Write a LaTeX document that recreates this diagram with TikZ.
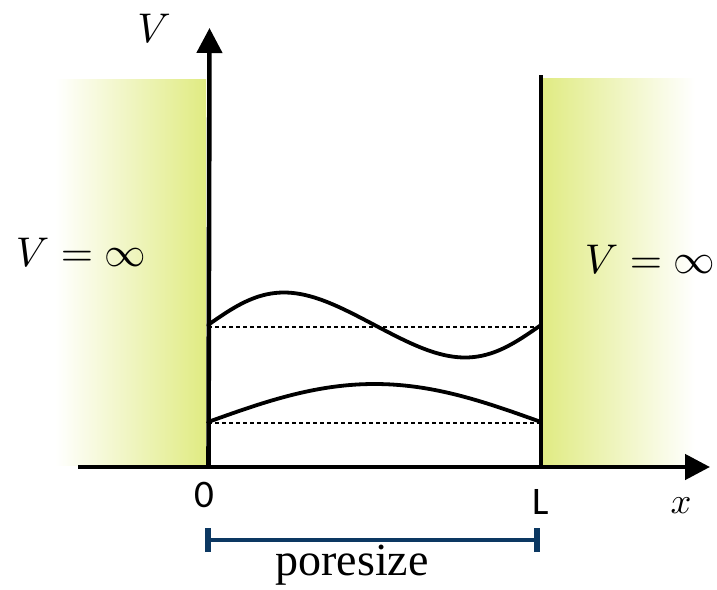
\documentclass[tikz,border=0pt]{standalone}
\usepackage{fontspec}
\newfontfamily\sansf{Carlito}
\newfontfamily\seriff{Liberation Serif}
\usetikzlibrary{arrows.meta}
\definecolor{wallyel}{RGB}{224,235,130}
\definecolor{brnavy}{RGB}{12,56,98}
\tikzset{
  axisline/.style={line width=4.6pt,-{Triangle[length=25pt,width=25pt]}},
  wallline/.style={line width=4.5pt},
  wave/.style={line width=3.8pt,line cap=round},
  level/.style={line width=1.4pt,dash pattern=on 4pt off 3pt},
  mathlbl/.style={inner sep=0pt,scale=4.15},
  sanslbl/.style={inner sep=0pt,font=\sansf\fontsize{39}{42}\selectfont},
}
\begin{document}
\begin{tikzpicture}[x=1pt,y=-1pt]
\useasboundingbox (0,0) rectangle (717,589);
% walls (shaded regions)
\shade[left color=white,right color=wallyel] (55,79) rectangle (206,465);
\shade[left color=wallyel,right color=white] (541,78) rectangle (695,465);
% coordinates
\coordinate (o) at (208.5,467);
\coordinate (ytip) at (209.5,28);
\coordinate (xstart) at (78,467);
\coordinate (xtip) at (710,467);
\coordinate (rwtop) at (541,75);
\coordinate (rwbot) at (541,467);
\coordinate (d1a) at (208,327);
\coordinate (d1b) at (541,327);
\coordinate (d2a) at (208,423);
\coordinate (d2b) at (541,423);
% level lines
\draw[level] (d1a) -- (d1b);
\draw[level] (d2a) -- (d2b);
% waves
\draw[wave] plot[smooth,domain=0:1,samples=80] ({208+333*\x},{325-32.5*sin(360*\x+8*sin(360*\x))});
\draw[wave] plot[smooth,domain=0:1,samples=80] ({208+333*\x},{422-38*sin(180*\x)});
% axes and wall
\draw[wallline] (rwbot) -- (rwtop);
\draw[axisline] (xstart) -- (xtip);
\draw[axisline] (o) -- (ytip);
% labels
\node[mathlbl] (vlab) at (154,28) {$V$};
\node[mathlbl] (vl) at (81,252) {$V=\infty$};
\node[mathlbl] (vr) at (650,259) {$V=\infty$};
\node[mathlbl,scale=0.88] (xlab) at (681,506) {$x$};
\node[sanslbl] (zero) at (204.5,494.5) {0};
\node[sanslbl] (ell) at (541,502) {L};
% bracket
\coordinate (ba) at (208,540);
\coordinate (bb) at (537,540);
\draw[brnavy,line width=3.2pt] (ba) -- (bb);
\draw[brnavy,line width=5.5pt] ([yshift=-12pt]ba) -- ([yshift=12pt]ba);
\draw[brnavy,line width=5.5pt] ([yshift=-12pt]bb) -- ([yshift=12pt]bb);
\node[anchor=base,inner sep=0pt,font=\seriff\fontsize{46}{50}\selectfont] (pore) at (352,575) {poresize};
\end{tikzpicture}
\end{document}
